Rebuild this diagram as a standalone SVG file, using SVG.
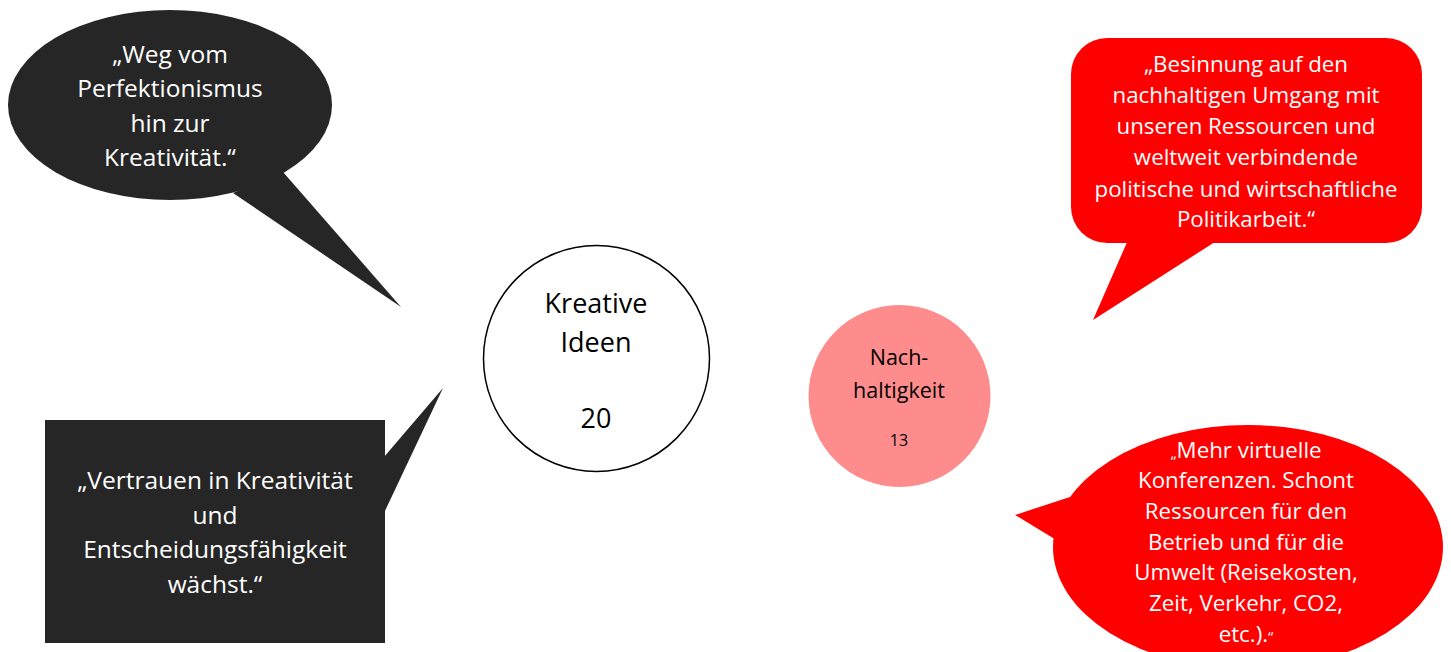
<svg xmlns="http://www.w3.org/2000/svg" width="1451" height="652" viewBox="0 0 1451 652">
<style>
.q{font-family:"Open Sans","Liberation Sans",sans-serif;fill:#fff;text-anchor:middle}
.big{font-size:24.5px}
.mid{font-size:22.3px}
.c{font-family:"Open Sans","Liberation Sans",sans-serif;fill:#000;text-anchor:middle}
.dark{fill:#262626}
.red{fill:#ff0000}
</style>
<rect width="1451" height="652" fill="#fff"/>
<g id="bubble-weg">
<path class="dark" d="M283,172 L401,307 L233,193 Z"/>
<ellipse class="dark" cx="170" cy="105" rx="162" ry="95"/>
<text class="q big"><tspan x="170" y="63">„Weg vom</tspan><tspan x="170" y="97">Perfektionismus</tspan><tspan x="170" y="132">hin zur</tspan><tspan x="170" y="166">Kreativität.“</tspan></text>
</g>
<g id="bubble-vertrauen">
<path class="dark" d="M384,457 L443,388 L384,513 Z"/>
<rect class="dark" x="45" y="420" width="340" height="223"/>
<text class="q big"><tspan x="215" y="489">„Vertrauen in Kreativität</tspan><tspan x="215" y="524">und</tspan><tspan x="215" y="558">Entscheidungsfähigkeit</tspan><tspan x="215" y="593">wächst.“</tspan></text>
</g>
<g id="node-kreative">
<circle cx="596.5" cy="358.5" r="113" fill="#fff" stroke="#000" stroke-width="1.5"/>
<text class="c" style="font-size:27px"><tspan x="596" y="313">Kreative</tspan><tspan x="596" y="352">Ideen</tspan><tspan x="596" y="428">20</tspan></text>
</g>
<g id="node-nachhaltigkeit">
<circle cx="899.5" cy="396" r="91" fill="#ff8c8c"/>
<text class="c" style="font-size:21.5px"><tspan x="899" y="365">Nach-</tspan><tspan x="899" y="398">haltigkeit</tspan></text>
<text class="c" x="899" y="446" style="font-size:16px">13</text>
</g>
<g id="bubble-besinnung">
<path class="red" d="M1128,240 L1093,320 L1218,240 Z"/>
<rect class="red" x="1071" y="38" width="351" height="205" rx="36" ry="36"/>
<text class="q mid"><tspan x="1246" y="72">„Besinnung auf den</tspan><tspan x="1246" y="103">nachhaltigen Umgang mit</tspan><tspan x="1246" y="134">unseren Ressourcen und</tspan><tspan x="1246" y="165">weltweit verbindende</tspan><tspan x="1246" y="197">politische und wirtschaftliche</tspan><tspan x="1246" y="227">Politikarbeit.“</tspan></text>
</g>
<g id="bubble-mehr">
<path class="red" d="M1070,497 L1015,515 L1058,541 Z"/>
<ellipse class="red" cx="1248" cy="547" rx="195" ry="122"/>
<text class="q mid"><tspan x="1246" y="458"><tspan style="font-size:15px">„</tspan>Mehr virtuelle</tspan><tspan x="1246" y="488">Konferenzen. Schont</tspan><tspan x="1246" y="519">Ressourcen für den</tspan><tspan x="1246" y="550">Betrieb und für die</tspan><tspan x="1246" y="580">Umwelt (Reisekosten,</tspan><tspan x="1246" y="611">Zeit, Verkehr, CO2,</tspan><tspan x="1246" y="642">etc.).<tspan style="font-size:15px">“</tspan></tspan></text>
</g>
<g id="connectors"></g>
</svg>
